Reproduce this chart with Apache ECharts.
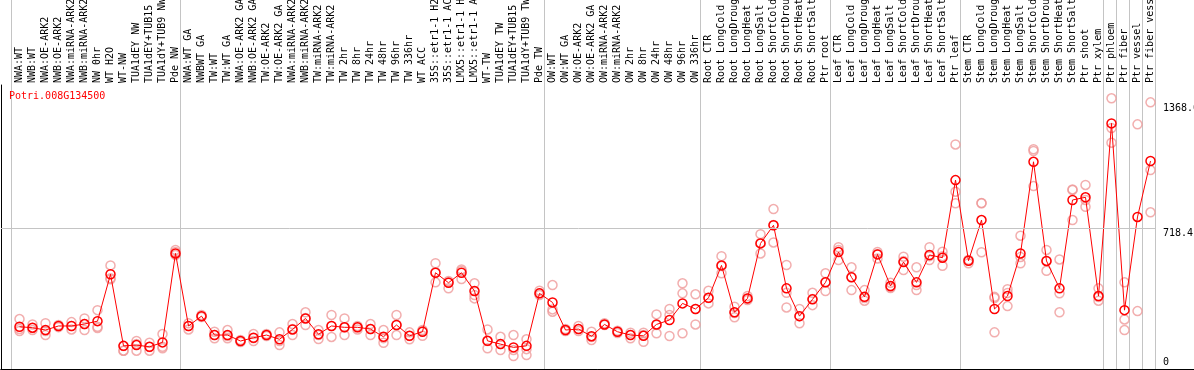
<!DOCTYPE html>
<html lang="en">
<head>
  <meta charset="UTF-8">
  <title>Potri.008G134500 expression</title>
  <style>
    html, body { margin: 0; padding: 0; background: #fff; }
    #chart { width: 1194px; height: 370px; }
  </style>
</head>
<body>
  <div id="chart"></div>

  <script src="https://cdn.jsdelivr.net/npm/echarts@6/dist/echarts.min.js"></script>
  <script>
    // sample names, in plotting order
    const categories = [
      'NWA:WT', 'NWB:WT', 'NWA:OE-ARK2', 'NWB:OE-ARK2', 'NWA:miRNA-ARK2', 'NWB:miRNA-ARK2',
      'NW 0hr', 'WT H2O', 'WT-NW', 'TUA1dEY NW', 'TUA1dEY+TUB15 NW', 'TUA1dY+TUB9 NW', 'Pde NW',
      'NWA:WT GA', 'NWBWT GA', 'TW:WT', 'TW:WT GA', 'NWA:OE-ARK2 GA', 'NWB:OE-ARK2 GA',
      'TW:OE-ARK2', 'TW:OE-ARK2 GA', 'NWA:miRNA-ARK2 GA', 'NWB:miRNA-ARK2 GA', 'TW:miRNA-ARK2',
      'TW:miRNA-ARK2 GA', 'TW 2hr', 'TW 8hr', 'TW 24hr', 'TW 48hr', 'TW 96hr', 'TW 336hr', 'WT ACC',
      '35S::etr1-1 H2O', '35S::etr1-1 ACC', 'LMX5::etr1-1 H2O', 'LMX5::etr1-1 ACC', 'WT-TW',
      'TUA1dEY TW', 'TUA1dEY+TUB15 TW', 'TUA1dY+TUB9 TW', 'Pde TW',
      'OW:WT', 'OW:WT GA', 'OW:OE-ARK2', 'OW:OE-ARK2 GA', 'OW:miRNA-ARK2', 'OW:miRNA-ARK2 GA',
      'OW 2hr', 'OW 8hr', 'OW 24hr', 'OW 48hr', 'OW 96hr', 'OW 336hr',
      'Root CTR', 'Root LongCold', 'Root LongDrought', 'Root LongHeat', 'Root LongSalt',
      'Root ShortCold', 'Root ShortDrought', 'Root ShortHeat', 'Root ShortSalt', 'Ptr root',
      'Leaf CTR', 'Leaf LongCold', 'Leaf LongDrought', 'Leaf LongHeat', 'Leaf LongSalt',
      'Leaf ShortCold', 'Leaf ShortDrought', 'Leaf ShortHeat', 'Leaf ShortSalt', 'Ptr leaf',
      'Stem CTR', 'Stem LongCold', 'Stem LongDrought', 'Stem LongHeat', 'Stem LongSalt',
      'Stem ShortCold', 'Stem ShortDrought', 'Stem ShortHeat', 'Stem ShortSalt', 'Ptr shoot',
      'Ptr xylem', 'Ptr phloem', 'Ptr fiber', 'Ptr vessel', 'Ptr fiber vessel'
    ];

    // mean expression per sample
    const means = [
      209, 204, 192, 213, 213, 223, 238, 481, 110, 114, 105, 128, 589,
      213, 264, 166, 166, 135, 152, 166, 144, 195, 252, 170, 213, 206, 206, 197, 157, 218,
      162, 183, 489, 437, 489, 394, 136, 119, 102, 110, 382,
      335, 192, 197, 160, 221, 183, 166, 162, 221, 244, 330, 301,
      359, 527, 284, 356, 641, 735, 408, 264, 351, 439,
      596, 465, 364, 584, 420, 544, 439, 581, 567, 969,
      551, 762, 301, 368, 589, 1064, 550, 408, 866, 880, 368,
      1263, 295, 778, 1068
    ];

    // individual replicates per sample
    const replicates = [
      [249, 187, 197], [221, 192, 202], [227, 166, 187], [213, 207, 218], [233, 195, 213],
      [252, 192, 223], [295, 209, 202], [527, 455, 460], [85, 85, 109], [135, 85, 119],
      [126, 85, 104], [171, 97, 105], [607, 596, 581],
      [227, 195, 213], [270, 264, 259], [183, 149, 166], [192, 149, 161], [140, 135, 130],
      [171, 135, 150], [171, 166, 161], [180, 114, 135], [223, 166, 197], [284, 218, 254],
      [192, 145, 166], [270, 156, 213], [252, 166, 207], [213, 195, 207], [223, 166, 197],
      [192, 126, 150], [270, 166, 218], [180, 144, 161], [192, 162, 187], [538, 439, 492],
      [446, 408, 441], [506, 456, 498], [434, 356, 373], [195, 97, 135], [157, 88, 119],
      [166, 57, 88], [144, 62, 93], [396, 382, 373],
      [425, 287, 299], [188, 197, 187], [213, 197, 187], [183, 140, 156], [227, 221, 218],
      [188, 183, 176], [178, 149, 166], [178, 131, 166], [273, 175, 218], [301, 161, 270],
      [434, 382, 175], [377, 221, 301],
      [396, 330, 358], [575, 486, 524], [313, 258, 280], [368, 347, 356], [689, 589, 643],
      [819, 646, 736], [529, 385, 309], [301, 227, 264], [385, 321, 353], [486, 394, 441],
      [621, 555, 607], [517, 399, 467], [399, 344, 358], [596, 563, 586], [437, 410, 415],
      [572, 503, 550], [517, 399, 425], [621, 555, 575], [598, 525, 575], [1154, 849, 909],
      [555, 538, 555], [849, 595, 850], [364, 180, 358], [404, 316, 384], [681, 538, 570],
      [1129, 938, 1120], [607, 499, 550], [558, 284, 382], [921, 762, 918], [944, 831, 866],
      [408, 344, 363],
      [1393, 1163, 1239], [439, 247, 192], [1258, 290], [1372, 1021, 802]
    ];

    // index of the first sample of each block (a grey separator sits to its left)
    const groupStarts = [0, 13, 41, 53, 63, 73, 84, 85, 86, 87];

    const yLabels = [718.4, 1368.6];
    const midLine = 718.4;
    const yMin = -10;
    const yMax = 1462;

    const mono = 'DejaVu Sans Mono';

    const repPoints = [];
    replicates.forEach((reps, i) => {
      reps.forEach(v => repPoints.push([categories[i], v]));
    });

    const chart = echarts.init(document.getElementById('chart'));
    chart.setOption({
      animation: false,
      title: {
        text: 'Potri.008G134500',
        left: 9,
        top: 91,
        padding: 0,
        textStyle: { color: '#ff0000', fontFamily: mono, fontSize: 10, fontWeight: 'normal' }
      },
      grid: [
        // separators, running through the label strip
        { left: 11, top: 0, width: 1144, height: 369, containLabel: false, outerBoundsMode: 'none' },
        // data
        { left: 13, top: 85, width: 1144, height: 284, containLabel: false, outerBoundsMode: 'none' },
        // black frame
        { left: 1, top: 85, right: 0, height: 284, containLabel: false, outerBoundsMode: 'none' },
        // horizontal mid line
        { left: 1, top: 85, width: 1155, height: 284, containLabel: false, outerBoundsMode: 'none' }
      ],
      xAxis: [
        {
          gridIndex: 0, type: 'category', data: categories, boundaryGap: true,
          axisLine: { show: false }, axisTick: { show: false }, axisLabel: { show: false },
          splitLine: {
            show: true,
            interval: idx => groupStarts.includes(idx),
            lineStyle: { color: '#c4c4c4', width: 1 }
          }
        },
        {
          gridIndex: 1, type: 'category', data: categories, boundaryGap: true, position: 'top',
          axisLine: { show: false }, axisTick: { show: false }, splitLine: { show: false },
          axisLabel: {
            interval: 0, rotate: 90, margin: 2,
            color: '#000', fontFamily: mono, fontSize: 10
          }
        },
        {
          gridIndex: 2, type: 'value', position: 'top', min: 0, max: 1,
          axisLine: { show: true, lineStyle: { color: '#000', width: 1 } },
          axisTick: { show: false }, axisLabel: { show: false }, splitLine: { show: false }
        },
        {
          gridIndex: 2, type: 'value', position: 'bottom', min: 0, max: 1,
          axisLine: { show: true, lineStyle: { color: '#000', width: 1 } },
          axisTick: { show: false }, axisLabel: { show: false }, splitLine: { show: false }
        },
        { gridIndex: 3, type: 'value', min: 0, max: 1, show: false }
      ],
      yAxis: [
        { gridIndex: 0, type: 'value', show: false },
        {
          gridIndex: 1, type: 'value', position: 'right', min: yMin, max: yMax,
          axisLine: { show: false }, axisTick: { show: false }, splitLine: { show: false },
          axisLabel: {
            customValues: yLabels, formatter: v => String(v),
            margin: 6, align: 'left', verticalAlign: 'top',
            color: '#000', fontFamily: mono, fontSize: 10
          }
        },
        {
          gridIndex: 1, type: 'value', position: 'right', min: yMin, max: yMax,
          axisLine: { show: false }, axisTick: { show: false }, splitLine: { show: false },
          axisLabel: {
            customValues: [0], formatter: v => String(v),
            margin: 6, align: 'left', verticalAlign: 'bottom',
            color: '#000', fontFamily: mono, fontSize: 10
          }
        },
        {
          gridIndex: 2, type: 'value', position: 'left', min: 0, max: 1,
          axisLine: { show: true, lineStyle: { color: '#000', width: 1 } },
          axisTick: { show: false }, axisLabel: { show: false }, splitLine: { show: false }
        },
        { gridIndex: 3, type: 'value', min: yMin, max: yMax, show: false }
      ],
      series: [
        {
          type: 'line',
          xAxisIndex: 4, yAxisIndex: 4,
          data: [],
          silent: true,
          markLine: {
            silent: true,
            symbol: 'none',
            label: { show: false },
            lineStyle: { color: '#c4c4c4', type: 'solid', width: 1 },
            data: [{ yAxis: midLine }]
          }
        },
        {
          name: 'replicates',
          type: 'scatter',
          xAxisIndex: 1, yAxisIndex: 1,
          data: repPoints,
          symbol: 'circle',
          symbolSize: 9,
          itemStyle: { color: 'rgba(0,0,0,0)', borderColor: '#ef9a9a', borderWidth: 1.5 },
          silent: true
        },
        {
          name: 'mean',
          type: 'line',
          xAxisIndex: 1, yAxisIndex: 1,
          data: means,
          symbol: 'circle',
          symbolSize: 9,
          showAllSymbol: true,
          lineStyle: { color: '#ff0000', width: 1 },
          itemStyle: { color: 'rgba(255,255,255,0)', borderColor: '#ff0000', borderWidth: 1.5 },
          silent: true,
          z: 3
        }
      ]
    });
  </script>
</body>
</html>
